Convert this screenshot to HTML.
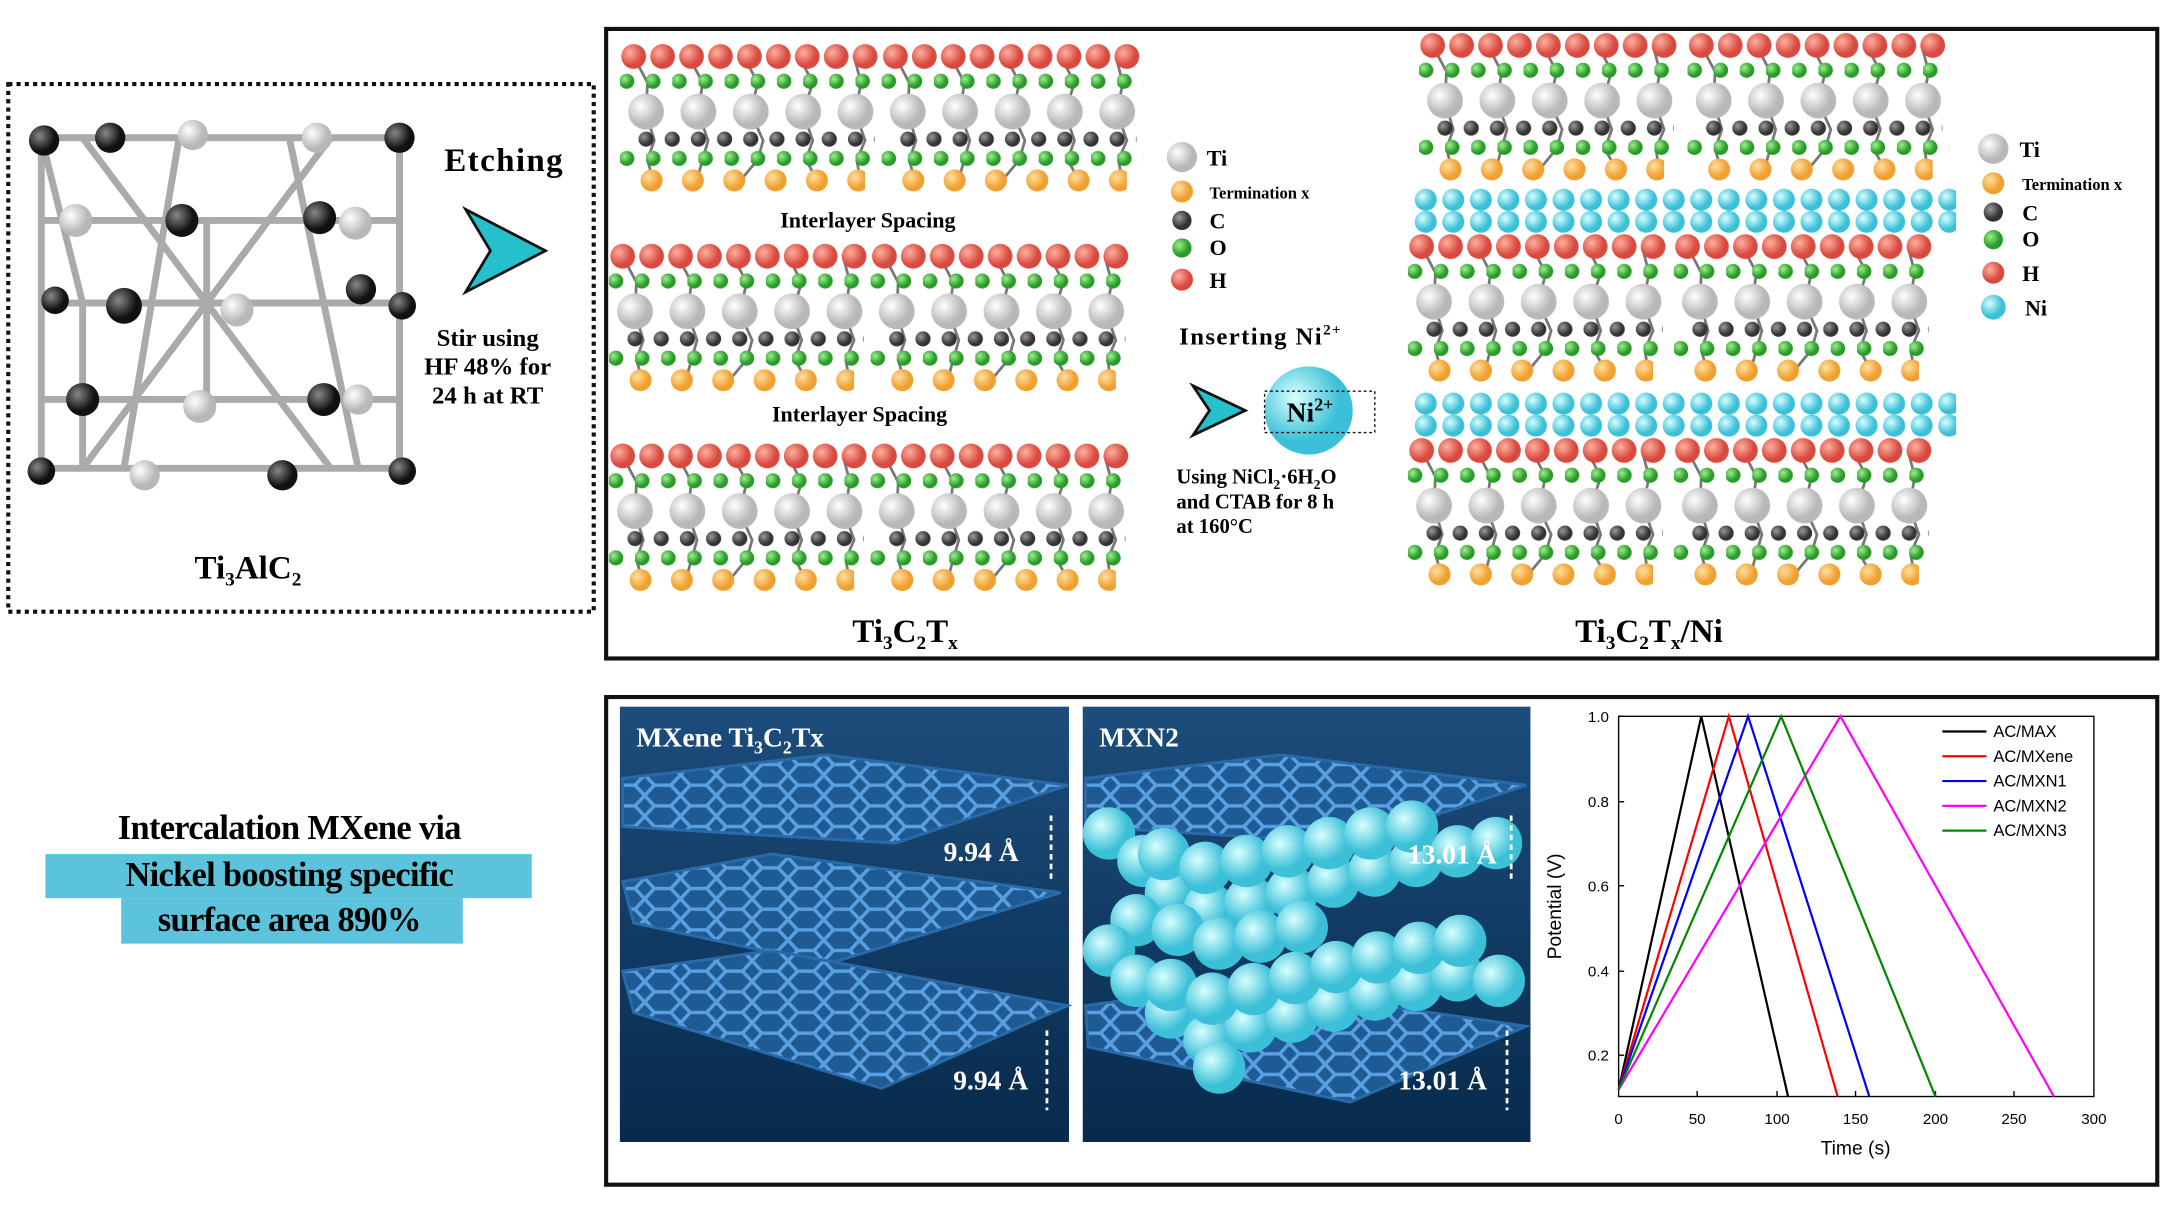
<!DOCTYPE html>
<html><head><meta charset="utf-8"><style>
html,body{margin:0;padding:0;background:#fff;}
svg{display:block}
.serif{font-family:"Liberation Serif",serif;}
.sans{font-family:"Liberation Sans",sans-serif;}
</style></head><body>
<svg width="2160" height="1215" viewBox="0 0 1568 882" xmlns="http://www.w3.org/2000/svg">
<defs>
<radialGradient id="gR" cx="35%" cy="35%"><stop offset="0" stop-color="#ffb0a0"/><stop offset="1" stop-color="#d84a40"/></radialGradient>
<radialGradient id="gG" cx="35%" cy="35%"><stop offset="0" stop-color="#ffffff"/><stop offset="1" stop-color="#b8b8b8"/></radialGradient>
<radialGradient id="gD" cx="35%" cy="35%"><stop offset="0" stop-color="#999"/><stop offset="1" stop-color="#333"/></radialGradient>
<radialGradient id="gN" cx="35%" cy="35%"><stop offset="0" stop-color="#9cf08c"/><stop offset="1" stop-color="#2a9a2a"/></radialGradient>
<radialGradient id="gO" cx="35%" cy="35%"><stop offset="0" stop-color="#ffe0a0"/><stop offset="1" stop-color="#f0a030"/></radialGradient>
<radialGradient id="gC" cx="35%" cy="35%"><stop offset="0" stop-color="#d8ffff"/><stop offset="1" stop-color="#3cc0d8"/></radialGradient>
<radialGradient id="gK" cx="35%" cy="35%"><stop offset="0" stop-color="#888"/><stop offset="1" stop-color="#111"/></radialGradient>
<linearGradient id="bg" x1="0" y1="0" x2="0" y2="1"><stop offset="0" stop-color="#1c4d7c"/><stop offset="1" stop-color="#082a4c"/></linearGradient>
<pattern id="pR" width="21" height="22" patternUnits="userSpaceOnUse"><circle cx="10" cy="11" r="9" fill="url(#gR)"/></pattern>
<pattern id="pG" width="38" height="30" patternUnits="userSpaceOnUse"><circle cx="19" cy="15" r="13" fill="url(#gG)"/></pattern>
<pattern id="pD" width="19" height="14" patternUnits="userSpaceOnUse"><circle cx="9" cy="7" r="5.5" fill="url(#gD)"/></pattern>
<pattern id="pN" width="19" height="14" patternUnits="userSpaceOnUse"><circle cx="5" cy="7" r="5.5" fill="url(#gN)"/></pattern>
<pattern id="pO" width="30" height="18" patternUnits="userSpaceOnUse"><circle cx="15" cy="9" r="8" fill="url(#gO)"/></pattern>
<pattern id="pC" width="20" height="16" patternUnits="userSpaceOnUse"><circle cx="10" cy="8" r="8" fill="url(#gC)"/></pattern>
<pattern id="pH" width="26" height="15" patternUnits="userSpaceOnUse"><path d="M7 0 L19 0 L26 7.5 L19 15 L7 15 L0 7.5Z" fill="none" stroke="#5a9fe0" stroke-width="2.5"/></pattern>
<g id="blk">
<g stroke="#777" stroke-width="2" fill="none"><path d="M10 11 L20 30 L19 52 L25 72 L20 86 L25 104 M50 11 L60 30 L57 52 L64 72 L60 86 L55 104 M90 11 L100 30 L95 52 L104 72 L100 86 L85 104 M130 11 L140 30 L133 52 L140 72 L135 86 L145 104 M170 11 L175 30 L171 52 L178 72 L172 86 L175 104"/></g>
<rect x="0" y="0" width="190" height="22" fill="url(#pR)"/>
<rect transform="translate(0,22)" width="190" height="14" fill="url(#pN)"/>
<rect transform="translate(0,36)" width="190" height="30" fill="url(#pG)"/>
<rect transform="translate(10,64)" width="175" height="14" fill="url(#pD)"/>
<rect transform="translate(0,78)" width="190" height="14" fill="url(#pN)"/>
<rect transform="translate(8,92)" width="170" height="18" fill="url(#pO)"/>
</g>
<circle id="ball" r="19" fill="url(#gC)"/>
</defs>

<rect x="6" y="61" width="425" height="383" fill="none" stroke="#111" stroke-width="3" stroke-dasharray="3,3"/>
<g stroke="#aaa" stroke-width="5" fill="none">
<path d="M30 100 L290 100 L290 340 L30 340Z"/><path d="M30 100 L60 220 L290 220"/><path d="M30 220 L290 220"/>
<path d="M60 220 L60 340"/><path d="M130 100 L90 340"/><path d="M210 100 L260 340"/><path d="M60 100 L240 340"/>
<path d="M240 100 L60 340"/><path d="M150 160 L150 300"/><path d="M30 160 L290 160"/><path d="M30 290 L290 290"/>
</g>
<g>
<circle cx="32" cy="102" r="11" fill="url(#gK)"/><circle cx="80" cy="100" r="11" fill="url(#gK)"/><circle cx="140" cy="98" r="11" fill="url(#gG)"/><circle cx="230" cy="100" r="11" fill="url(#gG)"/><circle cx="290" cy="100" r="11" fill="url(#gK)"/>
<circle cx="55" cy="160" r="12" fill="url(#gG)"/><circle cx="132" cy="160" r="12" fill="url(#gK)"/><circle cx="232" cy="158" r="12" fill="url(#gK)"/><circle cx="258" cy="162" r="12" fill="url(#gG)"/>
<circle cx="40" cy="218" r="10" fill="url(#gK)"/><circle cx="90" cy="222" r="13" fill="url(#gK)"/><circle cx="172" cy="225" r="12" fill="url(#gG)"/><circle cx="262" cy="210" r="11" fill="url(#gK)"/><circle cx="292" cy="222" r="10" fill="url(#gK)"/>
<circle cx="60" cy="290" r="12" fill="url(#gK)"/><circle cx="145" cy="295" r="12" fill="url(#gG)"/><circle cx="235" cy="290" r="12" fill="url(#gK)"/><circle cx="260" cy="290" r="11" fill="url(#gG)"/>
<circle cx="30" cy="342" r="10" fill="url(#gK)"/><circle cx="105" cy="345" r="11" fill="url(#gG)"/><circle cx="205" cy="345" r="11" fill="url(#gK)"/><circle cx="292" cy="342" r="10" fill="url(#gK)"/>
</g>
<text x="180" y="420" class="serif" font-size="24" font-weight="bold" text-anchor="middle">Ti<tspan font-size="14" dy="5">3</tspan><tspan dy="-5">AlC</tspan><tspan font-size="14" dy="5">2</tspan></text>
<text x="366" y="124" class="serif" font-size="24" font-weight="bold" text-anchor="middle" letter-spacing="1">Etching</text>
<path d="M338 152 L396 182 L338 212 L356 182Z" fill="#26c0cc" stroke="#111" stroke-width="2"/>
<text x="354" y="251" class="serif" font-size="18" font-weight="bold" text-anchor="middle">Stir using</text>
<text x="354" y="272" class="serif" font-size="18" font-weight="bold" text-anchor="middle">HF 48% for</text>
<text x="354" y="293" class="serif" font-size="18" font-weight="bold" text-anchor="middle">24 h at RT</text>

<rect x="440" y="21" width="1126" height="457" fill="none" stroke="#111" stroke-width="3"/>
<use href="#blk" x="450" y="30"/><use href="#blk" x="640" y="30"/>
<use href="#blk" x="442" y="175"/><use href="#blk" x="632" y="175"/>
<use href="#blk" x="442" y="320"/><use href="#blk" x="632" y="320"/>
<text x="630" y="165" class="serif" font-size="16" font-weight="bold" text-anchor="middle">Interlayer Spacing</text>
<text x="624" y="306" class="serif" font-size="16" font-weight="bold" text-anchor="middle">Interlayer Spacing</text>
<text x="657" y="466" class="serif" font-size="24" font-weight="bold" text-anchor="middle">Ti<tspan font-size="14" dy="5">3</tspan><tspan dy="-5">C</tspan><tspan font-size="14" dy="5">2</tspan><tspan dy="-5">T</tspan><tspan font-size="14" dy="5">x</tspan></text>
<g class="serif" font-weight="bold">
<circle cx="858" cy="114" r="11" fill="url(#gG)"/><text x="876" y="120" font-size="16">Ti</text>
<circle cx="858" cy="139" r="8" fill="url(#gO)"/><text x="878" y="144" font-size="12">Termination x</text>
<circle cx="858" cy="160" r="7" fill="url(#gD)"/><text x="878" y="166" font-size="16">C</text>
<circle cx="858" cy="180" r="7" fill="url(#gN)"/><text x="878" y="185" font-size="16">O</text>
<circle cx="858" cy="203" r="8" fill="url(#gR)"/><text x="878" y="209" font-size="16">H</text>
<text x="856" y="250" font-size="18" letter-spacing="1">Inserting  Ni<tspan font-size="11" dy="-7">2+</tspan></text>
<path d="M866 280 L904 298 L866 316 L878 298Z" fill="#26c0cc" stroke="#111" stroke-width="2"/>
<circle cx="950" cy="298" r="32" fill="url(#gC)"/>
<rect x="918" y="284" width="80" height="30" fill="none" stroke="#111" stroke-dasharray="2,2"/>
<text x="934" y="306" font-size="20">Ni<tspan font-size="13" dy="-8">2+</tspan></text>
<text x="854" y="351" font-size="15">Using NiCl<tspan font-size="10" dy="4">2</tspan><tspan dy="-4">·6H</tspan><tspan font-size="10" dy="4">2</tspan><tspan dy="-4">O</tspan></text>
<text x="854" y="369" font-size="15">and CTAB for 8 h</text>
<text x="854" y="387" font-size="15">at 160°C</text>
</g>
<use href="#blk" x="1030" y="22"/><use href="#blk" x="1225" y="22"/>
<rect transform="translate(1025,137)" width="395" height="32" fill="url(#pC)"/>
<use href="#blk" x="1022" y="168"/><use href="#blk" x="1215" y="168"/>
<rect transform="translate(1025,285)" width="395" height="32" fill="url(#pC)"/>
<use href="#blk" x="1022" y="316"/><use href="#blk" x="1215" y="316"/>
<text x="1197" y="466" class="serif" font-size="24" font-weight="bold" text-anchor="middle">Ti<tspan font-size="14" dy="5">3</tspan><tspan dy="-5">C</tspan><tspan font-size="14" dy="5">2</tspan><tspan dy="-5">T</tspan><tspan font-size="14" dy="5">x</tspan><tspan dy="-5">/Ni</tspan></text>
<g class="serif" font-weight="bold">
<circle cx="1447" cy="108" r="11" fill="url(#gG)"/><text x="1466" y="114" font-size="16">Ti</text>
<circle cx="1447" cy="133" r="8" fill="url(#gO)"/><text x="1468" y="138" font-size="12">Termination x</text>
<circle cx="1447" cy="154" r="7" fill="url(#gD)"/><text x="1468" y="160" font-size="16">C</text>
<circle cx="1447" cy="174" r="7" fill="url(#gN)"/><text x="1468" y="179" font-size="16">O</text>
<circle cx="1447" cy="198" r="8" fill="url(#gR)"/><text x="1468" y="204" font-size="16">H</text>
<circle cx="1447" cy="223" r="9" fill="url(#gC)"/><text x="1470" y="229" font-size="16">Ni</text>
</g>

<rect x="33" y="620" width="353" height="32" fill="#5bc4dc"/>
<rect x="88" y="652" width="248" height="33" fill="#5bc4dc"/>
<g class="serif" font-size="25" font-weight="bold" text-anchor="middle" letter-spacing="-0.5">
<text x="210" y="609">Intercalation MXene via</text>
<text x="210" y="643">Nickel boosting specific</text>
<text x="210" y="676">surface area 890%</text>
</g>

<rect x="440" y="506" width="1126" height="354" fill="none" stroke="#111" stroke-width="3"/>
<rect x="450" y="513" width="326" height="316" fill="url(#bg)"/>
<g stroke="#2a6aa8" stroke-width="2">
<polygon points="452,565 600,548 775,570 650,612 452,600" fill="#1e5a94"/><polygon points="452,565 600,548 775,570 650,612 452,600" fill="url(#pH)"/>
<polygon points="452,640 560,620 770,648 600,700 460,670" fill="#1e5a94"/><polygon points="452,640 560,620 770,648 600,700 460,670" fill="url(#pH)"/>
<polygon points="452,705 560,690 775,730 640,790 460,735" fill="#1e5a94"/><polygon points="452,705 560,690 775,730 640,790 460,735" fill="url(#pH)"/>
</g>
<rect x="786" y="513" width="325" height="316" fill="url(#bg)"/>
<g stroke="#2a6aa8" stroke-width="2">
<polygon points="788,565 930,548 1108,570 980,612 788,600" fill="#1e5a94"/><polygon points="788,565 930,548 1108,570 980,612 788,600" fill="url(#pH)"/>
<polygon points="788,730 900,715 1108,745 980,800 790,760" fill="#1e5a94"/><polygon points="788,730 900,715 1108,745 980,800 790,760" fill="url(#pH)"/>
</g>
<g>
<use href="#ball" x="805" y="605"/><use href="#ball" x="830" y="625"/><use href="#ball" x="850" y="648"/><use href="#ball" x="878" y="660"/><use href="#ball" x="908" y="655"/><use href="#ball" x="938" y="648"/><use href="#ball" x="968" y="640"/><use href="#ball" x="998" y="632"/><use href="#ball" x="1028" y="625"/><use href="#ball" x="1058" y="618"/><use href="#ball" x="1086" y="612"/>
<use href="#ball" x="845" y="620"/><use href="#ball" x="875" y="630"/><use href="#ball" x="905" y="625"/><use href="#ball" x="935" y="618"/><use href="#ball" x="965" y="612"/><use href="#ball" x="995" y="605"/><use href="#ball" x="1025" y="600"/>
<use href="#ball" x="825" y="668"/><use href="#ball" x="855" y="675"/><use href="#ball" x="885" y="685"/><use href="#ball" x="915" y="680"/><use href="#ball" x="945" y="673"/>
<use href="#ball" x="805" y="690"/><use href="#ball" x="825" y="712"/><use href="#ball" x="850" y="735"/><use href="#ball" x="878" y="755"/><use href="#ball" x="908" y="745"/><use href="#ball" x="938" y="738"/><use href="#ball" x="968" y="730"/><use href="#ball" x="998" y="722"/><use href="#ball" x="1028" y="715"/><use href="#ball" x="1058" y="708"/><use href="#ball" x="1088" y="712"/>
<use href="#ball" x="850" y="715"/><use href="#ball" x="880" y="725"/><use href="#ball" x="910" y="718"/><use href="#ball" x="940" y="710"/><use href="#ball" x="970" y="702"/><use href="#ball" x="1000" y="695"/><use href="#ball" x="1030" y="688"/><use href="#ball" x="1060" y="683"/>
<use href="#ball" x="885" y="775"/>
</g>
<g class="serif" font-weight="bold" fill="#fff">
<text x="462" y="542" font-size="20">MXene Ti<tspan font-size="13" dy="5">3</tspan><tspan dy="-5">C</tspan><tspan font-size="13" dy="5">2</tspan><tspan dy="-5">Tx</tspan></text>
<text x="798" y="542" font-size="20">MXN2</text>
<text x="685" y="625" font-size="20">9.94 Å</text>
<text x="692" y="791" font-size="20">9.94 Å</text>
<text x="1022" y="627" font-size="20">13.01 Å</text>
<text x="1015" y="791" font-size="20">13.01 Å</text>
</g>
<g stroke="#fff" stroke-width="2" stroke-dasharray="4,3" fill="#fff">
<line x1="763" y1="592" x2="763" y2="638"/><line x1="760" y1="748" x2="760" y2="806"/>
<line x1="1097" y1="592" x2="1097" y2="638"/><line x1="1094" y1="748" x2="1094" y2="806"/>
</g>

<g class="sans" font-size="11">
<rect x="1175" y="520" width="345" height="276" fill="none" stroke="#000" stroke-width="1"/>
<g stroke="#000">
<line x1="1175" y1="766" x2="1179" y2="766"/><line x1="1175" y1="705" x2="1179" y2="705"/><line x1="1175" y1="643" x2="1179" y2="643"/><line x1="1175" y1="582" x2="1179" y2="582"/><line x1="1175" y1="520" x2="1179" y2="520"/>
<line x1="1232" y1="796" x2="1232" y2="792"/><line x1="1290" y1="796" x2="1290" y2="792"/><line x1="1347" y1="796" x2="1347" y2="792"/><line x1="1405" y1="796" x2="1405" y2="792"/><line x1="1462" y1="796" x2="1462" y2="792"/>
</g>
<g text-anchor="end"><text x="1168" y="770">0.2</text><text x="1168" y="709">0.4</text><text x="1168" y="647">0.6</text><text x="1168" y="586">0.8</text><text x="1168" y="524">1.0</text></g>
<g text-anchor="middle"><text x="1175" y="816">0</text><text x="1232" y="816">50</text><text x="1290" y="816">100</text><text x="1347" y="816">150</text><text x="1405" y="816">200</text><text x="1462" y="816">250</text><text x="1520" y="816">300</text></g>
<text x="1347" y="838" font-size="14" text-anchor="middle">Time (s)</text>
<text transform="translate(1133,658) rotate(-90)" font-size="14" text-anchor="middle">Potential (V)</text>
<g fill="none" stroke-width="1.6">
<polyline points="1175,791 1235,520 1298,796" stroke="#000"/>
<polyline points="1175,791 1255,520 1334,796" stroke="#f00"/>
<polyline points="1175,791 1269,520 1357,796" stroke="#00f"/>
<polyline points="1175,791 1336,520 1491,796" stroke="#f0f"/>
<polyline points="1175,791 1293,520 1405,796" stroke="#080"/>
</g>
<g stroke-width="1.6">
<line x1="1410" y1="531" x2="1442" y2="531" stroke="#000"/><text x="1447" y="535" font-size="12">AC/MAX</text>
<line x1="1410" y1="549" x2="1442" y2="549" stroke="#f00"/><text x="1447" y="553" font-size="12">AC/MXene</text>
<line x1="1410" y1="567" x2="1442" y2="567" stroke="#00f"/><text x="1447" y="571" font-size="12">AC/MXN1</text>
<line x1="1410" y1="585" x2="1442" y2="585" stroke="#f0f"/><text x="1447" y="589" font-size="12">AC/MXN2</text>
<line x1="1410" y1="603" x2="1442" y2="603" stroke="#080"/><text x="1447" y="607" font-size="12">AC/MXN3</text>
</g>
</g>
</svg>
</body></html>
